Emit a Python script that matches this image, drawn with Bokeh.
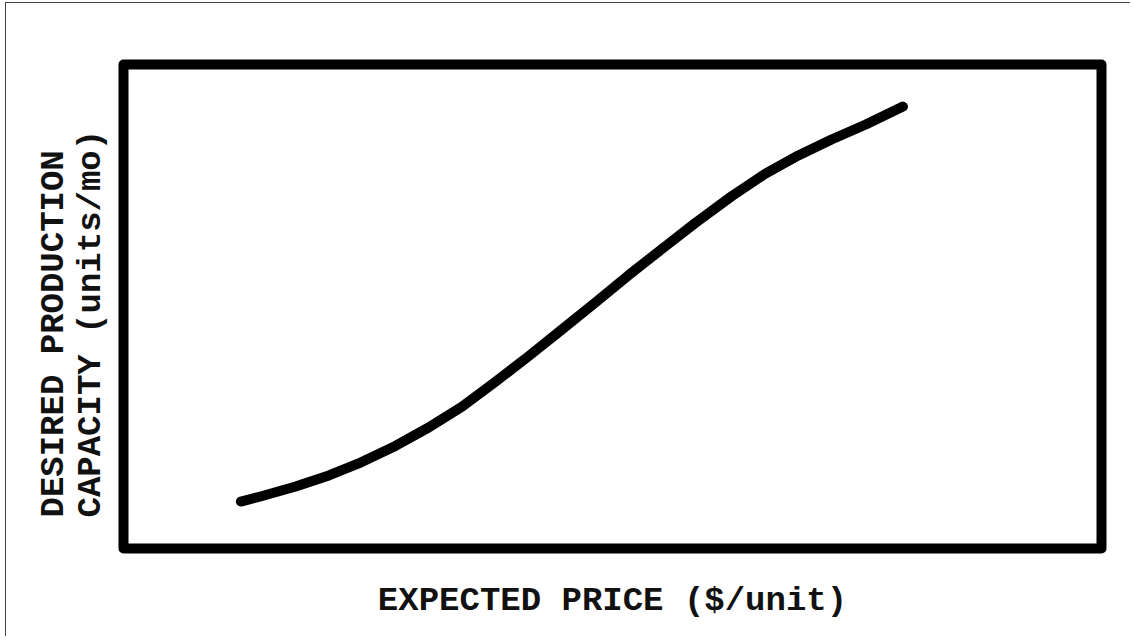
from bokeh.plotting import figure
from bokeh.models import Title, Range1d, FixedTicker
from bokeh.embed import file_html
from bokeh.resources import INLINE

# Data (arbitrary units: 0-100 along each axis of the framed area)
expected_price = [12.0, 14.1, 17.6, 21.0, 24.3, 27.8, 31.2, 34.6, 38.0, 41.4, 44.8,
                  48.3, 51.6, 55.0, 58.5, 62.2, 65.6, 69.0, 72.4, 75.9, 79.7]
desired_capacity = [9.7, 10.8, 12.8, 15.1, 17.8, 21.2, 25.0, 29.3, 34.4, 39.7, 45.2,
                    50.9, 56.4, 61.8, 67.3, 72.8, 77.4, 81.2, 84.5, 87.6, 91.3]

x_title = "EXPECTED PRICE ($/unit)"
y_title_lines = ["DESIRED PRODUCTION", "CAPACITY (units/mo)"]

FONT = "Liberation Mono"
FSIZE = "34px"

p = figure(width=1125, height=634, output_backend="svg", toolbar_location=None,
           x_range=Range1d(0, 100), y_range=Range1d(0, 100),
           y_axis_type=None,
           min_border_left=117, min_border_right=30,
           min_border_top=61, min_border_bottom=89)
p.grid.visible = False
p.background_fill_color = "white"
p.border_fill_color = "white"
p.outline_line_color = "black"
p.outline_line_width = 10
p.outline_line_alpha = 1.0
p.outline_line_join = "round"
p.styles = {"border-left": "1px solid #444444", "border-top": "1px solid #444444",
            "margin-left": "5px", "margin-top": "2px"}

xa = p.xaxis[0]
xa.ticker = FixedTicker(ticks=[])
xa.axis_line_color = None
xa.major_tick_line_color = None
xa.minor_tick_line_color = None
xa.major_tick_out = 0
xa.minor_tick_out = 0
xa.major_label_standoff = 0
xa.axis_label = x_title
xa.axis_label_standoff = 33
xa.axis_label_text_font = FONT
xa.axis_label_text_font_size = FSIZE
xa.axis_label_text_font_style = "bold"
xa.axis_label_text_color = "#111111"

p.line(expected_price, desired_capacity, line_color="black", line_width=10,
       line_cap="round", line_join="round")

def make_title(text, offset, standoff):
    return Title(text=text, align="left", offset=offset, standoff=standoff,
                 text_font=FONT, text_font_size=FSIZE, text_font_style="bold",
                 text_color="#111111")

p.add_layout(make_title(y_title_lines[1], 31, 28), "left")
p.add_layout(make_title(y_title_lines[0], 31, -34), "left")

open("out.html", "w").write(file_html(p, INLINE))
